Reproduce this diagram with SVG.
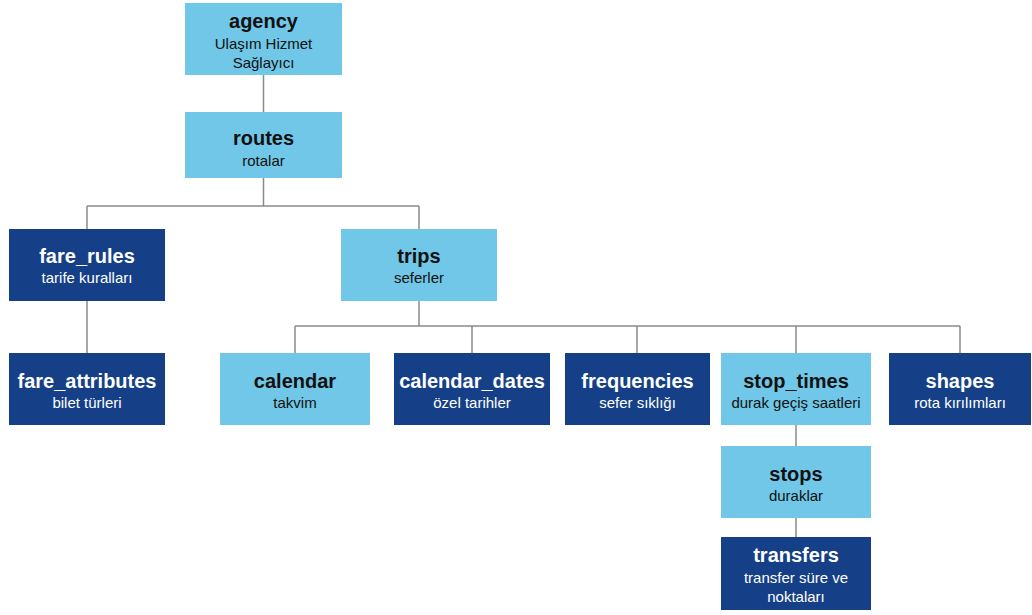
<svg xmlns="http://www.w3.org/2000/svg" width="1032" height="615" viewBox="0 0 1032 615">
<style>
.l{fill:#70C7E7}
.d{fill:#153F86}
.t{font-family:"Liberation Sans",Arial,sans-serif;font-weight:bold;font-size:20px;text-anchor:middle}
.s{font-family:"Liberation Sans",Arial,sans-serif;font-size:15px;text-anchor:middle}
.lt{fill:#111}
.dt{fill:#fff}
.c{stroke:#8a8a8a;stroke-width:1.5;fill:none}
</style>
<rect width="1032" height="615" fill="#fff"/>
<g id="connectors">
<path class="c" d="M263.5 75V112"/>
<path class="c" d="M263.5 178V206M87 206H419M87 206V229M419 206V229"/>
<path class="c" d="M87 300V353"/>
<path class="c" d="M419 300V326M295 326H960M295 326V353M472 326V353M637 326V353M796 326V353M960 326V353"/>
<path class="c" d="M796 425V446M796 518V537"/>
</g>
<g id="agency"><rect class="l" x="185" y="3" width="157" height="72"/><text class="t lt" x="263.5" y="28">agency</text><text class="s lt" x="263.5" y="49">Ulaşım Hizmet</text><text class="s lt" x="263.5" y="68">Sağlayıcı</text></g>
<g id="routes"><rect class="l" x="185" y="112" width="157" height="66"/><text class="t lt" x="263.5" y="145">routes</text><text class="s lt" x="263.5" y="166">rotalar</text></g>
<g id="fare_rules"><rect class="d" x="9" y="229" width="156" height="72"/><text class="t dt" x="87" y="263">fare_rules</text><text class="s dt" x="87" y="283">tarife kuralları</text></g>
<g id="trips"><rect class="l" x="341" y="229" width="156" height="72"/><text class="t lt" x="419" y="263">trips</text><text class="s lt" x="419" y="283">seferler</text></g>
<g id="fare_attributes"><rect class="d" x="9" y="353" width="156" height="72"/><text class="t dt" x="87" y="388">fare_attributes</text><text class="s dt" x="87" y="408">bilet türleri</text></g>
<g id="calendar"><rect class="l" x="220" y="353" width="150" height="72"/><text class="t lt" x="295" y="388">calendar</text><text class="s lt" x="295" y="408">takvim</text></g>
<g id="calendar_dates"><rect class="d" x="394" y="353" width="156" height="72"/><text class="t dt" x="472" y="388">calendar_dates</text><text class="s dt" x="472" y="408">özel tarihler</text></g>
<g id="frequencies"><rect class="d" x="565" y="353" width="145" height="72"/><text class="t dt" x="637.5" y="388">frequencies</text><text class="s dt" x="637.5" y="408">sefer sıklığı</text></g>
<g id="stop_times"><rect class="l" x="721" y="353" width="150" height="72"/><text class="t lt" x="796" y="388">stop_times</text><text class="s lt" x="796" y="408">durak geçiş saatleri</text></g>
<g id="shapes"><rect class="d" x="889" y="353" width="142" height="72"/><text class="t dt" x="960" y="388">shapes</text><text class="s dt" x="960" y="408">rota kırılımları</text></g>
<g id="stops"><rect class="l" x="721" y="446" width="150" height="72"/><text class="t lt" x="796" y="481">stops</text><text class="s lt" x="796" y="501">duraklar</text></g>
<g id="transfers"><rect class="d" x="721" y="537" width="150" height="73"/><text class="t dt" x="796" y="562">transfers</text><text class="s dt" x="796" y="583">transfer süre ve</text><text class="s dt" x="796" y="602">noktaları</text></g>
</svg>
